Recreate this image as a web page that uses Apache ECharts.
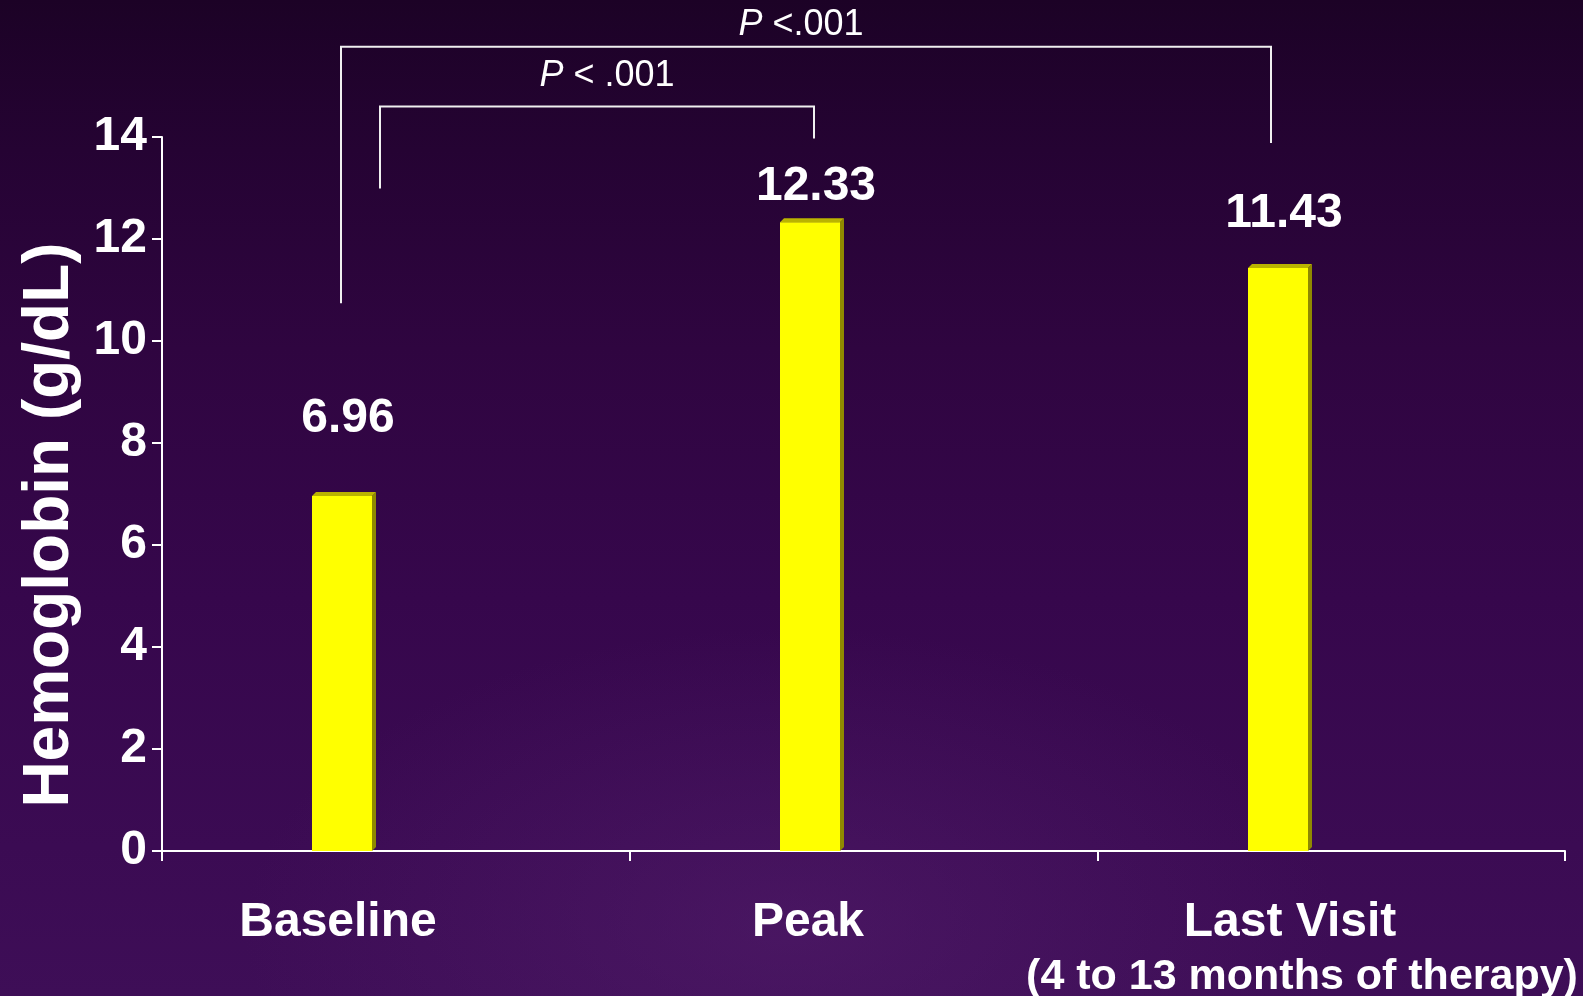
<!DOCTYPE html>
<html>
<head>
<meta charset="utf-8">
<script src="https://cdn.jsdelivr.net/npm/echarts@6/dist/echarts.min.js"></script>
<style>
  html, body { margin: 0; padding: 0; width: 1583px; height: 996px; overflow: hidden; }
  body {
    background:
      radial-gradient(ellipse 760px 420px at 790px 930px, rgba(90, 35, 115, 0.42), rgba(90, 35, 115, 0) 72%),
      linear-gradient(180deg, #1c0226 0%, #250333 15%, #2f0540 35%, #36074c 60%, #3b0b53 85%, #3e0e57 100%);
  }
  #chart { width: 1583px; height: 996px; }
</style>
</head>
<body>
<div id="chart"></div>
<script>
// Hemoglobin at three time points
const categories = ['Baseline', 'Peak', 'Last Visit\n(4 to 13 months of therapy)'];
const hemoglobin = [6.96, 12.33, 11.43];
const pairs = [[0, 2], [0, 1]];
const pValues = ['{i|P} <.001', '{i|P} < .001'];

const FONT = "'Liberation Sans', Arial, Helvetica, sans-serif";
const BAR_W = 60;
const DEPTH = 4;
// how far each value label baseline sits above its bar top (px)
const LABEL_RAISE = [60, 18, 37];
// horizontal nudge of each category label (px, positive = right)
const CAT_SHIFT = [-4, -2, 12];

// bracket geometry: foot heights and top height in axis units, horizontal nudges in px
const bracketLayout = [
  { leftDx: -1, rightDx: -7, leftFoot: 10.74, rightFoot: 13.88, top: 15.77, textDx: -5, textLift: 22 },
  { leftDx: 38, rightDx: 4, leftFoot: 12.99, rightFoot: 13.97, top: 14.60, textDx: 10, textLift: 30 }
];

const chart = echarts.init(document.getElementById('chart'), null, { renderer: 'canvas' });

function renderBar(params, api) {
  const i = api.value(0);
  const v = api.value(1);
  const top = api.coord([i, v]);
  const base = api.coord([i, 0]);
  const half = BAR_W / 2, d = DEPTH;
  const x0 = top[0] - half, x1 = top[0] + half, yT = top[1], yB = base[1];
  return {
    type: 'group',
    children: [
      { type: 'polygon', shape: { points: [[x1, yT], [x1 + d, yT - d], [x1 + d, yB - d], [x1, yB]] },
        style: { fill: '#8f8900' } },
      { type: 'polygon', shape: { points: [[x0, yT], [x0 + d, yT - d], [x1 + d, yT - d], [x1, yT]] },
        style: { fill: '#bab300' } },
      { type: 'rect', shape: { x: x0, y: yT, width: BAR_W, height: yB - yT },
        style: { fill: '#ffff00' } },
      { type: 'text', x: top[0] + 6, y: yT - LABEL_RAISE[i] - 17,
        style: { text: v.toFixed(2), fill: '#ffffff', font: 'bold 48px ' + FONT,
                 textAlign: 'center', textVerticalAlign: 'middle' } }
    ]
  };
}

// category label: each line nudged with padding so it sits where intended
function catLabel(value, index) {
  const lines = value.split('\n');
  return lines.map((line, k) => {
    const shift = CAT_SHIFT[index] * (k + 1);
    const tag = k === 0 ? 'm' : 's';
    const key = tag + (shift >= 0 ? 'r' : 'l') + Math.abs(shift);
    return '{' + key + '|' + line + '}';
  }).join('\n');
}

function catRich() {
  const rich = {};
  const shifts = new Set();
  CAT_SHIFT.forEach(s => { shifts.add(s); shifts.add(s * 2); });
  shifts.forEach(s => {
    const pad = s >= 0 ? [0, 0, 0, 2 * s] : [0, -2 * s, 0, 0];
    const nm = (s >= 0 ? 'r' : 'l') + Math.abs(s);
    rich['m' + nm] = { fontSize: 48, fontWeight: 'bold', fontFamily: FONT, color: '#ffffff', lineHeight: 55, padding: pad };
    rich['s' + nm] = { fontSize: 43, fontWeight: 'bold', fontFamily: FONT, color: '#ffffff', lineHeight: 55, padding: pad };
  });
  return rich;
}

const option = {
  backgroundColor: 'transparent',
  animation: false,
  grid: [
    { left: 162, right: 18, top: 137, bottom: 145, containLabel: false, outerBoundsMode: 'none' },
    { left: 108, right: 71, top: 137, bottom: 145, containLabel: false, outerBoundsMode: 'none' }
  ],
  xAxis: [
    {
      type: 'category', gridIndex: 0, data: categories, boundaryGap: true,
      axisLine: { show: true, lineStyle: { color: '#ffffff', width: 2 } },
      axisTick: { show: true, length: 10, alignWithLabel: false, lineStyle: { color: '#ffffff', width: 2 } },
      axisLabel: { show: false },
      splitLine: { show: false }
    },
    {
      type: 'category', gridIndex: 1, data: categories, boundaryGap: true,
      axisLine: { show: false }, axisTick: { show: false },
      axisLabel: { show: true, color: '#ffffff', fontFamily: FONT, fontWeight: 'bold',
                   fontSize: 48, lineHeight: 55, margin: 44, interval: 0,
                   formatter: catLabel, rich: catRich() },
      splitLine: { show: false }
    }
  ],
  yAxis: [
    {
      type: 'value', gridIndex: 0, min: 0, max: 14, interval: 2,
      axisLine: { show: true, lineStyle: { color: '#ffffff', width: 2 } },
      axisTick: { show: true, length: 10, lineStyle: { color: '#ffffff', width: 2 } },
      axisLabel: { color: '#ffffff', fontFamily: FONT, fontWeight: 'bold', fontSize: 48, margin: 15 },
      splitLine: { show: false }
    },
    {
      type: 'value', gridIndex: 1, min: 0, max: 14, interval: 2, show: false
    }
  ],
  series: [
    {
      type: 'custom', xAxisIndex: 1, yAxisIndex: 1,
      renderItem: renderBar,
      data: hemoglobin.map((v, i) => [i, v]),
      clip: false
    }
  ]
};

chart.setOption(option);

// axis title and significance brackets
const graphics = [
  {
    type: 'text', x: 50, y: 525, rotation: Math.PI / 2,
    style: { text: 'Hemoglobin (g/dL)', fill: '#ffffff', font: 'bold 64px ' + FONT,
             textAlign: 'center', textVerticalAlign: 'middle' }
  }
];

pairs.forEach(([a, b], k) => {
  const L = bracketLayout[k];
  const toPx = (cat, val) => chart.convertToPixel({ xAxisIndex: 1, yAxisIndex: 1 }, [cat, val]);
  const lf = toPx(a, L.leftFoot), rf = toPx(b, L.rightFoot);
  const yTop = toPx(a, L.top)[1];
  const xl = lf[0] + L.leftDx, xr = rf[0] + L.rightDx;
  graphics.push({
    type: 'polyline',
    shape: { points: [[xl, lf[1]], [xl, yTop], [xr, yTop], [xr, rf[1]]] },
    style: { stroke: '#f0f0f0', lineWidth: 2, fill: null }
  });
  graphics.push({
    type: 'text', x: (xl + xr) / 2 + L.textDx, y: yTop - L.textLift,
    style: {
      text: pValues[k], fill: '#ffffff', font: '36px ' + FONT,
      textAlign: 'center', textVerticalAlign: 'middle',
      rich: { i: { fontStyle: 'italic', fontSize: 36, fontFamily: FONT, fill: '#ffffff' } }
    }
  });
});

chart.setOption({ graphic: graphics });
</script>
</body>
</html>
